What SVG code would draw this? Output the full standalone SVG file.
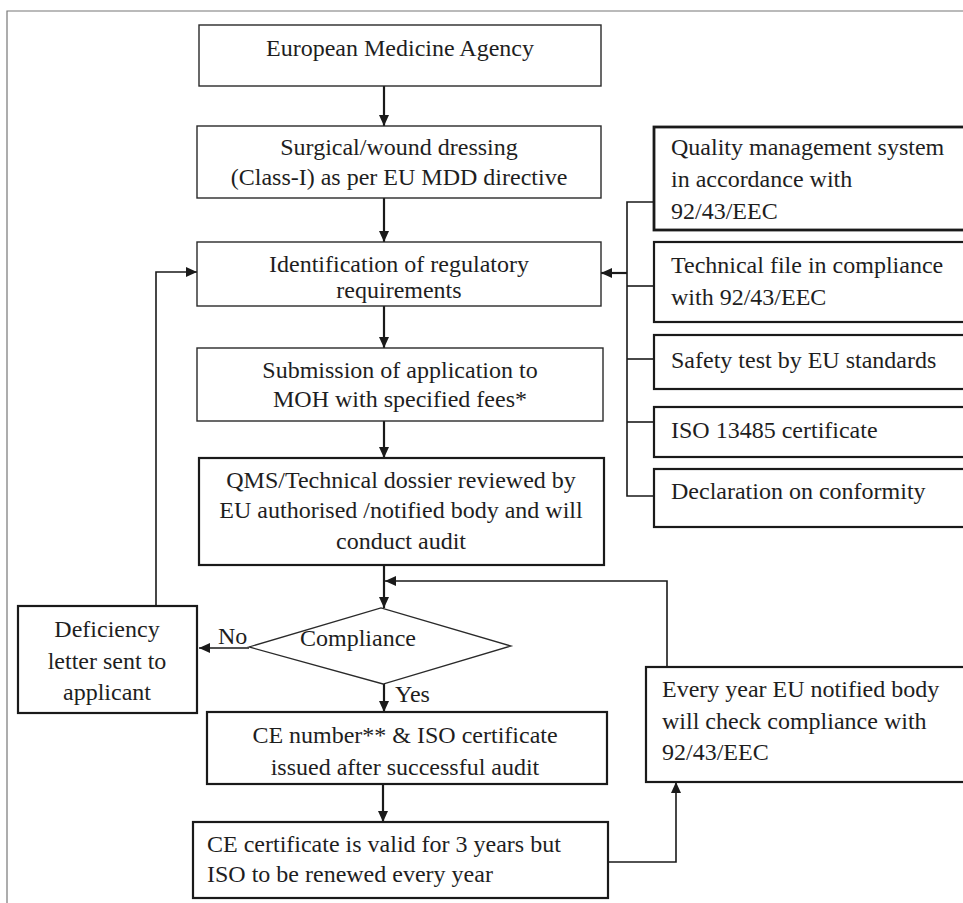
<svg xmlns="http://www.w3.org/2000/svg" width="963" height="903" viewBox="0 0 963 903">
  <defs>
    <marker id="arrow" markerUnits="userSpaceOnUse" markerWidth="12" markerHeight="10" refX="11" refY="5" orient="auto">
      <path d="M0,0 L11,5 L0,10 z" fill="#1a1a1a"/>
    </marker>
    <style>
      .frame { fill: none; stroke: #777; stroke-width: 1.2; }
      .box { fill: #fff; stroke: #2a2a2a; stroke-width: 1.4; }
      .box-bold { fill: #fff; stroke: #1a1a1a; stroke-width: 2.2; }
      .diamond { fill: #fff; stroke: #2a2a2a; stroke-width: 1.3; }
      .link { fill: none; stroke: #1a1a1a; stroke-width: 1.6; }
      .link-bold { fill: none; stroke: #1a1a1a; stroke-width: 2.2; }
      text { font-family: "Liberation Serif", "Times New Roman", serif; font-size: 24px; fill: #1e1e1e; }
      .c { text-anchor: middle; }
    </style>
  </defs>

  <rect width="963" height="903" fill="#fff"/>

  <!-- outer frame (top and left edges only) -->
  <path class="frame" d="M7,903 V11 H963"/>

  <!-- connectors -->
  <g id="connectors">
    <line class="link-bold" x1="384" y1="86" x2="384" y2="126" marker-end="url(#arrow)"/>
    <line class="link-bold" x1="384" y1="198" x2="384" y2="242" marker-end="url(#arrow)"/>
    <line class="link-bold" x1="384" y1="306" x2="384" y2="348" marker-end="url(#arrow)"/>
    <line class="link-bold" x1="384" y1="421" x2="384" y2="458" marker-end="url(#arrow)"/>
    <line class="link-bold" x1="384" y1="565" x2="384" y2="608" marker-end="url(#arrow)"/>
    <line class="link-bold" x1="384" y1="684" x2="384" y2="712" marker-end="url(#arrow)"/>
    <line class="link-bold" x1="383" y1="784" x2="383" y2="822" marker-end="url(#arrow)"/>

    <!-- requirement bus on the right -->
    <path class="link" d="M654,202 H627 V496 H654"/>
    <line class="link" x1="627" y1="286" x2="654" y2="286"/>
    <line class="link" x1="627" y1="359" x2="654" y2="359"/>
    <line class="link" x1="627" y1="422" x2="654" y2="422"/>
    <line class="link-bold" x1="627" y1="273" x2="601" y2="273" marker-end="url(#arrow)"/>

    <!-- No branch and loop back to identification -->
    <line class="link" x1="249" y1="648" x2="199" y2="648" marker-end="url(#arrow)"/>
    <path class="link" d="M156,606 V272 H197" marker-end="url(#arrow)"/>

    <!-- yearly check loop -->
    <path class="link" d="M607,862 H676 V782" marker-end="url(#arrow)"/>
    <path class="link" d="M667,667 V581 H385" marker-end="url(#arrow)"/>
  </g>

  <g id="ema">
    <rect class="box" x="199" y="25" width="402" height="61"/>
    <text class="c" x="400" y="56">European Medicine Agency</text>
  </g>

  <g id="dressing">
    <rect class="box" x="197" y="126" width="404" height="72"/>
    <text class="c" x="399" y="155">Surgical/wound dressing</text>
    <text class="c" x="399" y="185">(Class-I) as per EU MDD directive</text>
  </g>

  <g id="identification">
    <rect class="box" x="197" y="242" width="404" height="64"/>
    <text class="c" x="399" y="272">Identification of regulatory</text>
    <text class="c" x="399" y="298">requirements</text>
  </g>

  <g id="submission">
    <rect class="box" x="197" y="348" width="406" height="73"/>
    <text class="c" x="400" y="378">Submission of application to</text>
    <text class="c" x="400" y="407">MOH with specified fees*</text>
  </g>

  <g id="review">
    <rect class="box-bold" x="199" y="458" width="405" height="107"/>
    <text class="c" x="401" y="488">QMS/Technical dossier reviewed by</text>
    <text class="c" x="401" y="518">EU authorised /notified body and will</text>
    <text class="c" x="401" y="549">conduct audit</text>
  </g>

  <g id="compliance">
    <polygon class="diamond" points="249,647 381,608 511,646 383,684"/>
    <text x="300" y="646">Compliance</text>
    <text x="218" y="644">No</text>
    <text x="395" y="702">Yes</text>
  </g>

  <g id="deficiency">
    <rect class="box-bold" x="18" y="606" width="179" height="107"/>
    <text class="c" x="107" y="637">Deficiency</text>
    <text class="c" x="107" y="669">letter sent to</text>
    <text class="c" x="107" y="700">applicant</text>
  </g>

  <g id="ce-number">
    <rect class="box-bold" x="207" y="712" width="400" height="72"/>
    <text class="c" x="405" y="743">CE number** &amp; ISO certificate</text>
    <text class="c" x="405" y="775">issued after successful audit</text>
  </g>

  <g id="validity">
    <rect class="box-bold" x="193" y="822" width="415" height="76"/>
    <text x="207" y="852">CE certificate is valid for 3 years but</text>
    <text x="207" y="882">ISO to be renewed every year</text>
  </g>

  <g id="annual-check">
    <rect class="box-bold" x="646" y="667" width="340" height="115"/>
    <text x="662" y="697">Every year EU notified body</text>
    <text x="662" y="729">will check compliance with</text>
    <text x="662" y="760">92/43/EEC</text>
  </g>

  <g id="qms">
    <rect class="box-bold" x="654" y="127" width="330" height="103" style="stroke-width:2.8"/>
    <text x="671" y="155">Quality management system</text>
    <text x="671" y="187">in accordance with</text>
    <text x="671" y="219">92/43/EEC</text>
  </g>

  <g id="technical-file">
    <rect class="box-bold" x="654" y="242" width="330" height="80"/>
    <text x="671" y="273">Technical file in compliance</text>
    <text x="671" y="305">with 92/43/EEC</text>
  </g>

  <g id="safety-test">
    <rect class="box-bold" x="654" y="335" width="330" height="54"/>
    <text x="671" y="368">Safety test by EU standards</text>
  </g>

  <g id="iso-13485">
    <rect class="box-bold" x="654" y="407" width="330" height="50"/>
    <text x="671" y="438">ISO 13485 certificate</text>
  </g>

  <g id="declaration">
    <rect class="box-bold" x="654" y="469" width="330" height="58"/>
    <text x="671" y="499">Declaration on conformity</text>
  </g>
</svg>
